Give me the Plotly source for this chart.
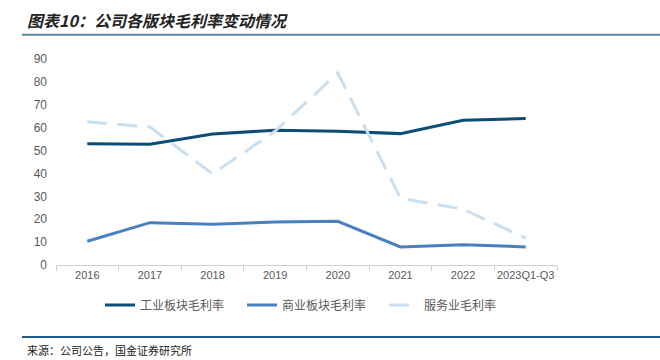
import plotly.graph_objects as go

categories = ["2016", "2017", "2018", "2019", "2020", "2021", "2022", "2023Q1-Q3"]
industrial = [53.0, 52.8, 57.2, 58.9, 58.4, 57.4, 63.2, 64.0]
commercial = [10.4, 18.5, 17.8, 18.8, 19.1, 7.9, 8.9, 7.9]
services = [62.6, 60.3, 39.8, 58.5, 83.9, 29.2, 24.4, 11.7]
names = ["工业板块毛利率", "商业板块毛利率", "服务业毛利率"]

FONT = "Noto Sans CJK SC"
fig = go.Figure()
fig.add_trace(go.Scatter(x=categories, y=industrial, name=names[0], mode="lines",
                         line=dict(color="#0b4d74", width=3)))
fig.add_trace(go.Scatter(x=categories, y=commercial, name=names[1], mode="lines",
                         line=dict(color="#4a80bf", width=3)))
fig.add_trace(go.Scatter(x=categories, y=services, name=names[2], mode="lines",
                         line=dict(color="#c9dff1", width=3, dash="20px,10px")))

W, H = 660, 360
L, R, T, B = 56, 103, 59, 95
pw, ph = W - L - R, H - T - B

def px(x):
    return (x - L) / pw

def py(y):
    return (H - B - y) / ph

fig.update_layout(
    width=W, height=H,
    margin=dict(l=L, r=R, t=T, b=B, autoexpand=False),
    paper_bgcolor="white", plot_bgcolor="white",
    font=dict(family=FONT, size=11, color="#595959"),
    showlegend=True,
    legend=dict(orientation="h", x=px(100), xanchor="left", y=py(305), yanchor="middle",
                font=dict(size=12, color="#595959", family=FONT),
                entrywidth=97, entrywidthmode="pixels", tracegroupgap=0),
    xaxis=dict(type="category", showgrid=False, showline=True, linecolor="#d0d0d0",
               linewidth=1, ticks="outside", tickson="boundaries", ticklen=5,
               tickcolor="#d0d0d0", tickangle=0,
               tickfont=dict(size=11, color="#595959", family="Liberation Sans"),
               range=[-0.5, 7.5]),
    yaxis=dict(range=[0, 90], dtick=10, showgrid=False, showline=False, zeroline=False,
               ticks="", tickfont=dict(size=12, color="#595959", family="Liberation Sans"),
               ticklabelstandoff=8),
    shapes=[
        dict(type="line", xref="paper", yref="paper", x0=px(22), x1=px(660), y0=py(34.7), y1=py(34.7),
             line=dict(color="#5b87a3", width=2)),
        dict(type="line", xref="paper", yref="paper", x0=px(22), x1=px(660), y0=py(337), y1=py(337),
             line=dict(color="#1f5a8a", width=2)),
    ],
    annotations=[
        dict(text="<b><i>图表10：公司各版块毛利率变动情况</i></b>", xref="paper", yref="paper",
             x=px(25), y=py(20), xanchor="left", yanchor="middle", showarrow=False,
             font=dict(size=16, color="#222222", family=FONT)),
        dict(text="来源：公司公告，国金证券研究所", xref="paper", yref="paper",
             x=px(25), y=py(350), xanchor="left", yanchor="middle", showarrow=False,
             font=dict(size=11, color="#222222", family=FONT)),
    ],
)

fig.write_html("out.html", config={"displayModeBar": False},
               post_script="document.body.style.margin='0';")
